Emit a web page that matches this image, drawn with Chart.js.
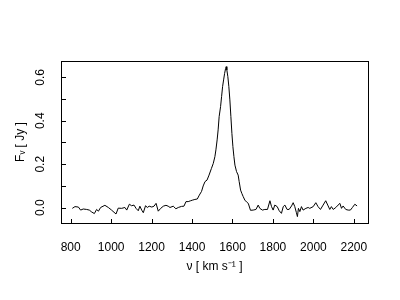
<!DOCTYPE html>
<html>
<head>
<meta charset="utf-8">
<script src="https://cdn.jsdelivr.net/npm/chart.js@4/dist/chart.umd.min.js"></script>
<style>
  body { margin: 0; background: #fff; }
  #wrap { width: 400px; height: 300px; }
</style>
</head>
<body>
<div id="wrap"><canvas id="canvas" width="400" height="300"></canvas></div>
<script>
// velocity channels (km/s) and flux (Jy)
var velocity = [
  808, 821, 838, 849, 862, 879, 892, 904, 917, 928, 937, 948, 969, 986,
  1002, 1024, 1035, 1052, 1068, 1077, 1090, 1101, 1113, 1123, 1134, 1142, 1151, 1159,
  1170, 1179, 1188, 1201, 1212, 1222, 1233, 1245, 1258, 1271, 1282, 1291, 1307, 1320,
  1332, 1348, 1360, 1370, 1381, 1393, 1403, 1414, 1426, 1436, 1447, 1455, 1464, 1474,
  1484, 1496, 1505, 1513, 1518, 1524, 1529, 1534, 1541, 1546, 1551, 1556, 1561, 1566,
  1569, 1572, 1577, 1582, 1587, 1592, 1597, 1602, 1607, 1612, 1620, 1628, 1633, 1640,
  1646, 1653, 1661, 1670, 1678, 1689, 1702, 1716, 1727, 1735, 1748, 1760, 1773, 1785,
  1793, 1801, 1809, 1821, 1831, 1842, 1851, 1859, 1870, 1880, 1892, 1900, 1908, 1916,
  1921, 1926, 1933, 1941, 1949, 1963, 1974, 1982, 1999, 2012, 2023, 2035, 2048, 2061,
  2073, 2081, 2089, 2098, 2111, 2122, 2131, 2139, 2147, 2160, 2172, 2183, 2193, 2205, 2216
];
var flux = [
  -0.003, 0.005, 0.003, -0.011, -0.006, -0.008, -0.011, -0.020, -0.027, -0.008, -0.016, 0.001, 0.011, 0.001,
  -0.011, -0.029, -0.002, -0.003, 0.001, -0.011, 0.016, 0.009, 0.012, -0.003, -0.014, 0.007, -0.011, -0.023,
  0.009, 0.001, 0.007, 0.003, 0.007, 0.020, -0.016, -0.003, 0.007, 0.011, 0.007, 0.001, 0.007, -0.005,
  0.001, 0.006, 0.007, 0.028, 0.028, 0.032, 0.035, 0.038, 0.040, 0.058, 0.075, 0.100, 0.120, 0.127,
  0.150, 0.181, 0.204, 0.235, 0.266, 0.312, 0.358, 0.419, 0.465, 0.511, 0.557, 0.588, 0.618, 0.641,
  0.649, 0.634, 0.603, 0.557, 0.496, 0.419, 0.342, 0.281, 0.235, 0.196, 0.166, 0.150, 0.120, 0.081,
  0.066, 0.051, 0.035, 0.026, 0.020, -0.012, -0.011, -0.008, 0.012, -0.003, -0.011, -0.008, -0.008, 0.032,
  0.005, -0.011, 0.012, 0.005, -0.014, -0.026, 0.005, 0.012, -0.008, -0.008, 0.008, 0.023, 0.005, -0.023,
  -0.041, -0.003, -0.018, 0.005, -0.011, -0.003, 0.001, -0.003, 0.005, 0.023, 0.005, -0.008, 0.012, 0.032,
  0.008, -0.008, 0.005, -0.008, 0.001, 0.012, 0.020, -0.003, 0.008, -0.008, -0.011, -0.011, 0.001, 0.016, 0.008
];

// tick positions; y only labels every other tick
var xTicks = [800, 1000, 1200, 1400, 1600, 1800, 2000, 2200];
var yTicks = [0, 0.1, 0.2, 0.3, 0.4, 0.5, 0.6];
var yLabels = ['0.0', '', '0.2', '', '0.4', '', '0.6'];

var xTitle = 'ν [ km s⁻¹ ]';
var yTitle = 'Fᵥ [ Jy ]';
var font = { family: '"Liberation Sans", Arial, sans-serif', size: 12 };

var points = velocity.map(function (v, i) { return { x: v, y: flux[i] }; });

// box around the plot plus short inward tick marks
var framePlugin = {
  id: 'frame',
  afterDraw: function (chart) {
    var ctx = chart.ctx, a = chart.chartArea;
    var sx = chart.scales.x, sy = chart.scales.y;
    ctx.save();
    ctx.strokeStyle = '#000';
    ctx.lineWidth = 1;
    ctx.strokeRect(a.left + 0.5, a.top + 0.5, a.right - a.left, a.bottom - a.top);
    ctx.beginPath();
    sx.ticks.forEach(function (t) {
      var px = Math.round(sx.getPixelForValue(t.value)) + 0.5;
      ctx.moveTo(px, a.bottom);
      ctx.lineTo(px, a.bottom - 4);
    });
    sy.ticks.forEach(function (t) {
      var py = Math.round(sy.getPixelForValue(t.value)) + 0.5;
      ctx.moveTo(a.left + 1, py);
      ctx.lineTo(a.left + 5, py);
    });
    ctx.stroke();
    ctx.restore();
  }
};

new Chart(document.getElementById('canvas').getContext('2d'), {
  type: 'line',
  data: {
    datasets: [{
      data: points,
      borderColor: '#000',
      borderWidth: 1,
      pointRadius: 0,
      tension: 0,
      fill: false
    }]
  },
  plugins: [framePlugin],
  options: {
    responsive: false,
    animation: false,
    layout: { padding: { top: 61, right: 32, left: 0, bottom: 0 } },
    plugins: { legend: { display: false }, tooltip: { enabled: false } },
    scales: {
      x: {
        type: 'linear',
        min: 752,
        max: 2270,
        grid: { display: false, drawTicks: false },
        border: { display: false },
        afterBuildTicks: function (s) { s.ticks = xTicks.map(function (v) { return { value: v }; }); },
        afterFit: function (s) { s.height = 77; },
        ticks: {
          color: '#000', font: font, padding: 17, maxRotation: 0, autoSkip: false,
          callback: function (v) { return String(v); }
        },
        title: { display: true, text: xTitle, color: '#000', font: font, padding: { top: 0, bottom: 26 } }
      },
      y: {
        min: -0.0704,
        max: 0.675,
        grid: { display: false, drawTicks: false },
        border: { display: false },
        afterBuildTicks: function (s) { s.ticks = yTicks.map(function (v) { return { value: v }; }); },
        afterFit: function (s) { s.width = 61; },
        ticks: {
          color: '#000',
          font: font,
          minRotation: 90,
          maxRotation: 90,
          crossAlign: 'center',
          padding: 12,
          autoSkip: false,
          callback: function (v, i) { return yLabels[i]; }
        },
        title: { display: true, text: yTitle, color: '#000', font: font, padding: { top: 13, bottom: 0 } }
      }
    }
  }
});
</script>
</body>
</html>
